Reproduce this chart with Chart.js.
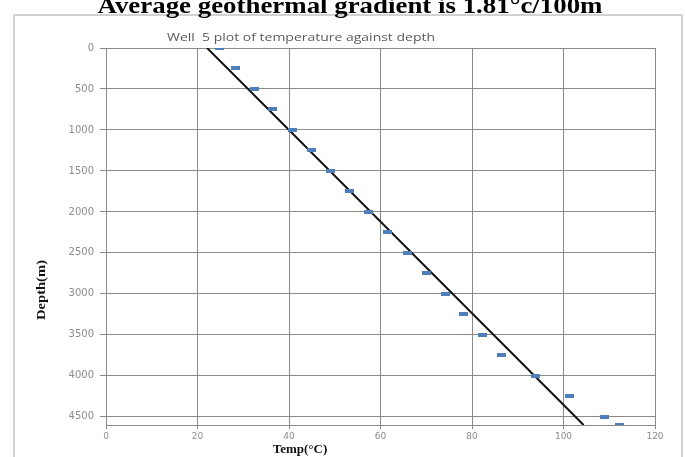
<!DOCTYPE html>
<html>
<head>
<meta charset="utf-8">
<title>Well 5 temperature against depth</title>
<script src="https://cdn.jsdelivr.net/npm/chart.js@4/dist/chart.umd.min.js"></script>
<style>
  html, body { margin: 0; padding: 0; background: #fff; }
  #wrap { position: relative; width: 685px; height: 457px; overflow: hidden; }
</style>
</head>
<body>
<div id="wrap"><canvas id="geoChart" width="685" height="457"></canvas></div>
<script>
// Well 5 readings, one every 250 m plus the bottom of the hole
const depths = [0, 250, 500, 750, 1000, 1250, 1500, 1750, 2000, 2250,
                2500, 2750, 3000, 3250, 3500, 3750, 4000, 4250, 4500, 4600];
const temps = [24.9, 28.2, 32.4, 36.5, 40.7, 44.9, 49.0, 53.2, 57.3, 61.5,
               65.8, 70.0, 74.2, 78.1, 82.3, 86.4, 93.9, 101.3, 109.0, 112.2];

// fitted line, surface to total depth
const trendDepths = [0, 4600];
const trendTemps = [22.1, 104.4];

const tempTicks = [0, 20, 40, 60, 80, 100, 120];
const depthTicks = [0, 500, 1000, 1500, 2000, 2500, 3000, 3500, 4000, 4500];

const headingText = 'Average geothermal gradient is 1.81°c/100m';
const chartTitle = 'Well  5 plot of temperature against depth';
const yTitle = 'Depth(m)';
const xTitle = 'Temp(°C)';

const gridColour = '#8a8a8a';
const tickColour = '#8c8c8c';
const markerColour = '#4f7fba';

// small horizontal dash used as the marker
function makeDash() {
    const c = document.createElement('canvas');
    c.width = 9;
    c.height = 4;
    const g = c.getContext('2d');
    g.fillStyle = markerColour;
    g.fillRect(0, 0, 9, 4);
    return c;
}

function toPoints(xs, ys) {
    return xs.map((x, i) => ({ x: x, y: ys[i] }));
}

// text squeezed/stretched to a given width, optionally rotated
function drawFitted(ctx, text, x, y, font, colour, width, angle) {
    ctx.save();
    ctx.font = font;
    ctx.fillStyle = colour;
    ctx.textAlign = 'center';
    ctx.textBaseline = 'alphabetic';
    const w = ctx.measureText(text).width;
    ctx.translate(x, y);
    if (angle) ctx.rotate(angle);
    if (width) ctx.scale(width / w, 1);
    ctx.fillText(text, 0, 0);
    ctx.restore();
}

const decorations = {
    id: 'decorations',
    beforeDraw(chart) {
        const ctx = chart.ctx;
        ctx.save();
        ctx.fillStyle = '#fff';
        ctx.fillRect(0, 0, chart.width, chart.height);
        // frame round the chart object
        ctx.strokeStyle = '#d2d2d2';
        ctx.lineWidth = 2;
        ctx.strokeRect(14, 15, 668, 470);
        ctx.restore();
    },
    afterDraw(chart) {
        const ctx = chart.ctx;
        drawFitted(ctx, headingText, 350, 13, 'bold 24px "Liberation Serif"', '#000', 505);
        drawFitted(ctx, chartTitle, 301, 41, '10px "Open Sans"', '#5a5a5a', 268);
        drawFitted(ctx, xTitle, 300, 453, 'bold 13px "Liberation Serif"', '#111', null);
        drawFitted(ctx, yTitle, 45, 290, 'bold 13px "Liberation Serif"', '#111', 60, -Math.PI / 2);
    }
};

const ctx = document.getElementById('geoChart').getContext('2d');
new Chart(ctx, {
    type: 'scatter',
    data: {
        datasets: [
            {
                label: 'Well 5',
                data: toPoints(temps, depths),
                pointStyle: makeDash(),
                pointRadius: 5,
                showLine: false
            },
            {
                label: 'Linear fit',
                data: toPoints(trendTemps, trendDepths),
                showLine: true,
                borderColor: '#111',
                borderWidth: 2,
                pointRadius: 0,
                fill: false
            }
        ]
    },
    options: {
        responsive: false,
        animation: false,
        devicePixelRatio: 1,
        layout: { padding: { left: 0, top: 48, right: 30, bottom: 0 } },
        plugins: {
            legend: { display: false },
            title: { display: false },
            tooltip: { enabled: false }
        },
        scales: {
            x: {
                type: 'linear',
                position: 'bottom',
                min: 0,
                max: 120,
                afterBuildTicks: s => { s.ticks = tempTicks.map(v => ({ value: v })); },
                afterFit: s => { s.height = 32; },
                grid: { color: gridColour, lineWidth: 1, tickLength: 4, tickColor: gridColour },
                border: { color: gridColour, width: 1 },
                ticks: {
                    color: tickColour,
                    font: { family: 'DejaVu Sans', size: 9 },
                    padding: 2,
                    maxRotation: 0,
                    callback: v => String(v)
                }
            },
            y: {
                type: 'linear',
                reverse: true,
                min: 0,
                max: 4600,
                afterBuildTicks: s => { s.ticks = depthTicks.map(v => ({ value: v })); },
                afterFit: s => { s.width = 106; },
                grid: { color: gridColour, lineWidth: 1, tickLength: 6, tickColor: gridColour },
                border: { color: gridColour, width: 1 },
                ticks: {
                    color: tickColour,
                    font: { family: 'DejaVu Sans', size: 10 },
                    padding: 6,
                    callback: v => String(v)
                }
            }
        }
    },
    plugins: [decorations]
});
</script>
</body>
</html>
